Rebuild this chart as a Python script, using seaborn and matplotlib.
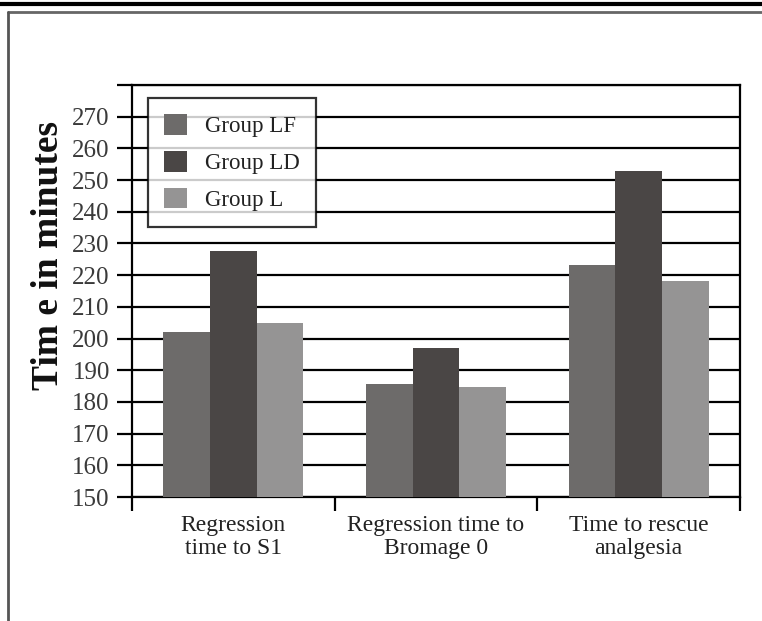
import matplotlib
matplotlib.use("Agg")
import matplotlib.pyplot as plt
import seaborn as sns
import pandas as pd
from matplotlib.lines import Line2D
from matplotlib.ticker import FixedLocator

categories = ["Regression\ntime to S1", "Regression time to\nBromage 0", "Time to rescue\nanalgesia"]
groups = ["Group LF", "Group LD", "Group L"]
group_lf = [202, 185.5, 223.3]
group_ld = [227.6, 197, 253]
group_l = [205, 184.6, 218.2]
yticks = list(range(150, 290, 10))
ytick_labels = [str(v) if v <= 270 else "" for v in yticks]
colors = ["#6d6b6a", "#4a4645", "#959494"]

rows = []
for g, vals in zip(groups, [group_lf, group_ld, group_l]):
    for c, v in zip(categories, vals):
        rows.append({"cat": c, "group": g, "value": v})
df = pd.DataFrame(rows)

sns.set_style("white")
plt.rcParams["font.family"] = ["Liberation Serif", "DejaVu Serif"]

fig = plt.figure(figsize=(7.62, 6.21), dpi=100)
ax = fig.add_axes([132/762, 1-497/621, (740-132)/762, (497-85)/621])

sns.barplot(data=df, x="cat", y="value", hue="group", palette=colors,
            saturation=1, width=0.69, ax=ax, errorbar=None, zorder=3,
            linewidth=0)

ax.set_ylim(150, 280)
ax.set_xlim(-0.5, 2.5)
ax.set_yticks(yticks)
ax.set_yticklabels(ytick_labels, fontsize=18, color="#3a3a3a")
ax.yaxis.grid(True, color="black", linewidth=1.6, zorder=0)
ax.set_axisbelow(True)
ax.tick_params(axis="y", direction="out", length=11, width=1.6, color="black", pad=5, left=True)
ax.set_xticks([0, 1, 2])
ax.set_xticklabels(categories, fontsize=17, color="#222222", linespacing=1.1)
ax.tick_params(axis="x", length=0, pad=13)
ax.xaxis.set_minor_locator(FixedLocator([-0.5, 0.5, 1.5, 2.5]))
ax.tick_params(axis="x", which="minor", direction="out", length=10, width=1.6, color="black", bottom=True)
for s in ax.spines.values():
    s.set_visible(True)
    s.set_color("black")
    s.set_linewidth(1.6)
ax.set_xlabel("")
ax.set_ylabel("Tim e in minutes", fontsize=27, fontweight="bold", color="#111111")
ax.yaxis.set_label_coords(-0.108, 0.587)

leg = ax.legend(loc="upper left", bbox_to_anchor=(0.026, 0.968), frameon=True,
                fancybox=False, edgecolor="black", fontsize=16.5, handlelength=1.0,
                handleheight=1.0, borderpad=0.7, labelspacing=0.6, handletextpad=0.8,
                borderaxespad=0)
leg.get_frame().set_linewidth(1.6)
leg.set_zorder(5)
for t in leg.get_texts():
    t.set_color("#222222")

# outer frame lines
fig.add_artist(Line2D([0, 1], [1-4/621, 1-4/621], color="black", linewidth=3, transform=fig.transFigure))
fig.add_artist(Line2D([8/762, 1], [1-12/621, 1-12/621], color="#666666", linewidth=2, transform=fig.transFigure))
fig.add_artist(Line2D([8/762, 8/762], [0, 1-12/621], color="#555555", linewidth=2, transform=fig.transFigure))

fig.savefig("out.png", dpi=100)
